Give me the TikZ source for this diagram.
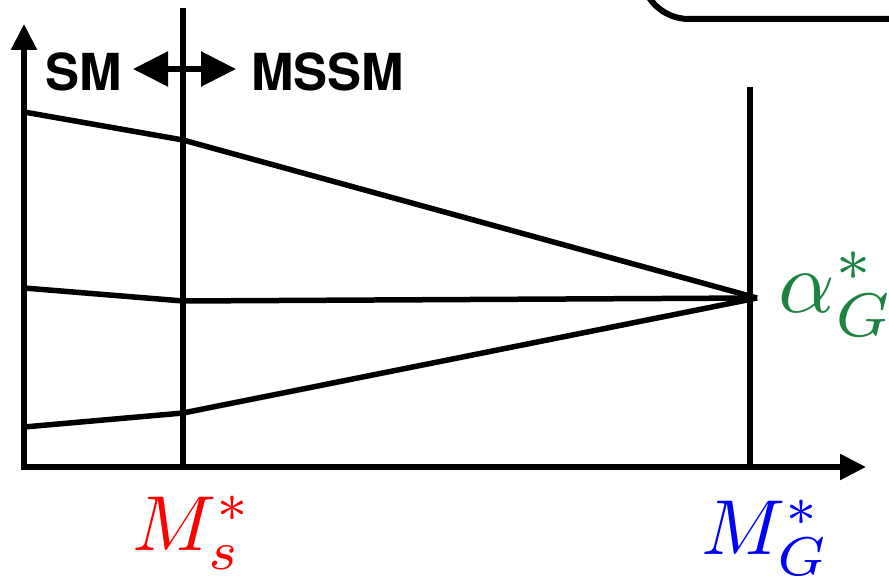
\documentclass[tikz,border=0pt]{standalone}
\usepackage{fontspec}
\newfontfamily\hel{TeX Gyre Heros}
\usetikzlibrary{arrows.meta}
\definecolor{ggreen}{RGB}{30,130,65}
\definecolor{mred}{RGB}{255,0,0}
\definecolor{mblue}{RGB}{0,0,255}
\begin{document}
\begin{tikzpicture}[x=1pt,y=-1pt,
  thickline/.style={line width=5.5pt,line join=round},
  axis/.style={line width=5.5pt,-{Triangle[length=26pt,width=25pt]}},
  dblarrow/.style={line width=5.5pt,{Triangle[length=35pt,width=34pt]}-{Triangle[length=35pt,width=34pt]}},
  regiontxt/.style={font=\hel\bfseries\fontsize{51}{51}\selectfont,inner sep=0pt,anchor=base west},
  mathlbl/.style={scale=7.8,inner sep=0pt,anchor=base west}]
\useasboundingbox (0,0) rectangle (889,580);
% axes
\coordinate (O) at (24,467);
\coordinate (Ytop) at (24,24);
\coordinate (Xend) at (866,467);
\draw[axis] (24,469.5) -- (Ytop);
\draw[axis] (21.5,467) -- (Xend);
% vertical scale lines
\coordinate (MsBot) at (183,467);
\coordinate (MsTop) at (183,8);
\coordinate (MGBot) at (750,467);
\coordinate (MGTop) at (750,87);
\draw[thickline] (MsBot) -- (MsTop);
\draw[thickline] (MGBot) -- (MGTop);
% running couplings
\coordinate (G) at (757,298);
\coordinate (A1) at (24,112);
\coordinate (B1) at (183,140);
\coordinate (A2) at (24,288);
\coordinate (B2) at (183,301);
\coordinate (A3) at (24,427);
\coordinate (B3) at (183,413);
\draw[thickline] (A1) -- (B1) -- (G);
\draw[thickline] (A2) -- (B2) -- (G);
\draw[thickline] (A3) -- (B3) -- (G);
% partial rounded box top right
\draw[line width=6pt,rounded corners=48pt] (641,-80) -- (641,19) -- (960,19);
% region labels
\node[regiontxt] (sm) at (45,91) {SM};
\node[regiontxt] (mssm) at (251,91) {MSSM};
\coordinate (DL) at (133,69);
\coordinate (DR) at (236,69);
\draw[dblarrow] (DL) -- (DR);
% math labels
\node[mathlbl,scale=1.13,text=ggreen] (alpha) at (777,312) {$\alpha^*_G$};
\node[mathlbl,text=mred] (ms) at (131,550) {$M^*_s$};
\node[mathlbl,text=mblue] (mg) at (700,554) {$M^*_G$};
\end{tikzpicture}
\end{document}
